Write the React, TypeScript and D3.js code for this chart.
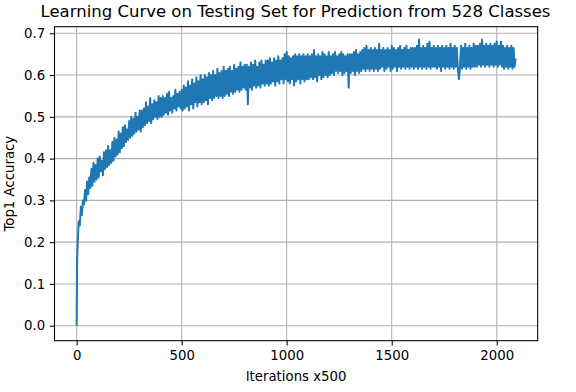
import React, { useEffect, useRef } from "react";
import * as d3 from "d3";

// testing-set accuracy, read every 5 evaluations (x500 iterations)
const headIterations = [0, 2];
const headAccuracy = [0.0, 0.155];
const evalStep = 5;
const accuracy = [
  0.2, 0.25, 0.24, 0.285, 0.265, 0.3, 0.29, 0.325, 0.3, 0.345, 0.315, 0.355, 0.33, 0.375, 0.335, 0.39, 0.345, 0.385, 0.35, 0.4,
  0.355, 0.405, 0.37, 0.395, 0.36, 0.415, 0.375, 0.42, 0.38, 0.43, 0.385, 0.42, 0.39, 0.44, 0.395, 0.45, 0.405, 0.445, 0.41, 0.465,
  0.415, 0.46, 0.425, 0.475, 0.43, 0.48, 0.44, 0.47, 0.445, 0.49, 0.45, 0.5, 0.455, 0.495, 0.46, 0.51, 0.465, 0.5, 0.47, 0.515,
  0.465, 0.515, 0.475, 0.52, 0.48, 0.535, 0.485, 0.525, 0.49, 0.545, 0.485, 0.53, 0.495, 0.54, 0.5, 0.535, 0.495, 0.55, 0.5, 0.545,
  0.5, 0.55, 0.505, 0.545, 0.51, 0.555, 0.505, 0.56, 0.515, 0.545, 0.51, 0.55, 0.52, 0.565, 0.515, 0.555, 0.525, 0.56, 0.52, 0.565,
  0.515, 0.575, 0.52, 0.57, 0.525, 0.585, 0.515, 0.575, 0.53, 0.59, 0.52, 0.58, 0.535, 0.595, 0.525, 0.585, 0.535, 0.6, 0.53, 0.59,
  0.535, 0.6, 0.54, 0.595, 0.53, 0.605, 0.545, 0.6, 0.54, 0.61, 0.545, 0.6, 0.55, 0.615, 0.545, 0.605, 0.55, 0.61, 0.545, 0.62,
  0.55, 0.61, 0.555, 0.615, 0.55, 0.62, 0.56, 0.61, 0.555, 0.625, 0.56, 0.615, 0.565, 0.62, 0.56, 0.63, 0.565, 0.62, 0.57, 0.625,
  0.565, 0.625, 0.53, 0.62, 0.57, 0.63, 0.565, 0.625, 0.575, 0.635, 0.57, 0.62, 0.575, 0.63, 0.57, 0.635, 0.58, 0.625, 0.575, 0.635,
  0.58, 0.635, 0.575, 0.64, 0.58, 0.63, 0.585, 0.64, 0.575, 0.635, 0.585, 0.645, 0.58, 0.635, 0.59, 0.64, 0.58, 0.65, 0.59, 0.655,
  0.585, 0.645, 0.58, 0.64, 0.59, 0.645, 0.575, 0.65, 0.585, 0.645, 0.59, 0.65, 0.58, 0.645, 0.59, 0.65, 0.585, 0.645, 0.59, 0.65,
  0.59, 0.645, 0.595, 0.65, 0.59, 0.66, 0.595, 0.645, 0.585, 0.65, 0.6, 0.645, 0.59, 0.655, 0.595, 0.65, 0.6, 0.645, 0.595, 0.655,
  0.6, 0.645, 0.605, 0.65, 0.6, 0.655, 0.61, 0.645, 0.605, 0.65, 0.61, 0.655, 0.6, 0.65, 0.605, 0.645, 0.61, 0.65, 0.57, 0.65,
  0.605, 0.65, 0.61, 0.655, 0.6, 0.66, 0.61, 0.65, 0.605, 0.655, 0.61, 0.66, 0.615, 0.665, 0.61, 0.67, 0.615, 0.66, 0.61, 0.665,
  0.615, 0.66, 0.61, 0.665, 0.615, 0.66, 0.61, 0.675, 0.615, 0.66, 0.62, 0.665, 0.61, 0.66, 0.615, 0.665, 0.62, 0.66, 0.61, 0.67,
  0.615, 0.665, 0.62, 0.66, 0.61, 0.665, 0.62, 0.67, 0.615, 0.66, 0.62, 0.665, 0.615, 0.67, 0.62, 0.66, 0.615, 0.665, 0.62, 0.665,
  0.615, 0.665, 0.62, 0.67, 0.615, 0.685, 0.62, 0.665, 0.615, 0.67, 0.62, 0.665, 0.615, 0.675, 0.62, 0.68, 0.615, 0.665, 0.62, 0.67,
  0.62, 0.665, 0.615, 0.67, 0.62, 0.665, 0.61, 0.67, 0.62, 0.665, 0.615, 0.67, 0.62, 0.665, 0.615, 0.675, 0.62, 0.665, 0.615, 0.67,
  0.62, 0.665, 0.615, 0.59, 0.62, 0.67, 0.615, 0.665, 0.62, 0.675, 0.615, 0.665, 0.62, 0.67, 0.615, 0.665, 0.62, 0.675, 0.62, 0.67,
  0.62, 0.67, 0.625, 0.675, 0.62, 0.685, 0.625, 0.67, 0.62, 0.675, 0.625, 0.67, 0.62, 0.675, 0.625, 0.67, 0.62, 0.675, 0.625, 0.68,
  0.62, 0.67, 0.625, 0.68, 0.62, 0.67, 0.615, 0.665, 0.62, 0.67, 0.615, 0.665, 0.62, 0.67, 0.615, 0.665, 0.62, 0.64,
];
const xTicks = [0, 500, 1000, 1500, 2000];
const yTicks = [0.0, 0.1, 0.2, 0.3, 0.4, 0.5, 0.6, 0.7];

const W = 576;
const H = 392;
const margin = { top: 26.7, right: 38.3, bottom: 51.3, left: 54.5 };
const FONT = "'DejaVu Sans', sans-serif";

export default function App() {
  const ref = useRef<SVGSVGElement>(null);

  useEffect(() => {
    const svg = d3.select(ref.current);
    svg.selectAll("*").remove();

    const x0 = margin.left;
    const x1 = W - margin.right;
    const y0 = H - margin.bottom;
    const y1 = margin.top;

    const x = d3.scaleLinear().domain([-105.5, 2195]).range([x0, x1]);
    const y = d3.scaleLinear().domain([-0.0359, 0.7158]).range([y0, y1]);

    const points: [number, number][] = headIterations.map((it, i) => [it, headAccuracy[i]]);
    accuracy.forEach((v, i) => points.push([(i + 1) * evalStep, v]));

    // grid
    const grid = svg.append("g").attr("stroke", "#b0b0b0").attr("stroke-width", 1.07);
    xTicks.forEach((t) => {
      grid.append("line").attr("x1", x(t)).attr("x2", x(t)).attr("y1", y0).attr("y2", y1);
    });
    yTicks.forEach((t) => {
      grid.append("line").attr("x1", x0).attr("x2", x1).attr("y1", y(t)).attr("y2", y(t));
    });

    // line
    const line = d3
      .line<[number, number]>()
      .x((d) => x(d[0]))
      .y((d) => y(d[1]));
    svg
      .append("path")
      .datum(points)
      .attr("d", line)
      .attr("fill", "none")
      .attr("stroke", "#1f77b4")
      .attr("stroke-width", 2)
      .attr("stroke-linejoin", "round");

    // axes
    const xAxis = d3
      .axisBottom(x)
      .tickValues(xTicks)
      .tickSize(4.7)
      .tickPadding(4.7)
      .tickFormat((d) => String(d));
    const yAxis = d3
      .axisLeft(y)
      .tickValues(yTicks)
      .tickSize(4.7)
      .tickPadding(4.7)
      .tickFormat(d3.format(".1f"));

    const gx = svg.append("g").attr("transform", `translate(0,${y0})`).call(xAxis);
    const gy = svg.append("g").attr("transform", `translate(${x0},0)`).call(yAxis);
    [gx, gy].forEach((g) => {
      g.select(".domain").remove();
      g.selectAll("line").attr("stroke", "#000").attr("stroke-width", 1.07);
      g.selectAll("text").attr("font-family", FONT).attr("font-size", 13.3).attr("fill", "#000");
    });

    // frame
    svg
      .append("rect")
      .attr("x", x0)
      .attr("y", y1)
      .attr("width", x1 - x0)
      .attr("height", y0 - y1)
      .attr("fill", "none")
      .attr("stroke", "#000")
      .attr("stroke-width", 1.07);

    svg
      .append("text")
      .attr("x", 295.5)
      .attr("y", 17.3)
      .attr("text-anchor", "middle")
      .attr("font-family", FONT)
      .attr("font-size", 16.5)
      .text("Learning Curve on Testing Set for Prediction from 528 Classes");

    svg
      .append("text")
      .attr("x", (x0 + x1) / 2)
      .attr("y", 381)
      .attr("text-anchor", "middle")
      .attr("font-family", FONT)
      .attr("font-size", 13.3)
      .text("Iterations x500");

    svg
      .append("text")
      .attr("transform", `translate(13.5,${(y0 + y1) / 2}) rotate(-90)`)
      .attr("text-anchor", "middle")
      .attr("font-family", FONT)
      .attr("font-size", 13.3)
      .text("Top1 Accuracy");
  }, []);

  return (
    <svg
      ref={ref}
      width={W}
      height={H}
      style={{ position: "absolute", left: 0, top: 0, background: "#fff" }}
    />
  );
}
